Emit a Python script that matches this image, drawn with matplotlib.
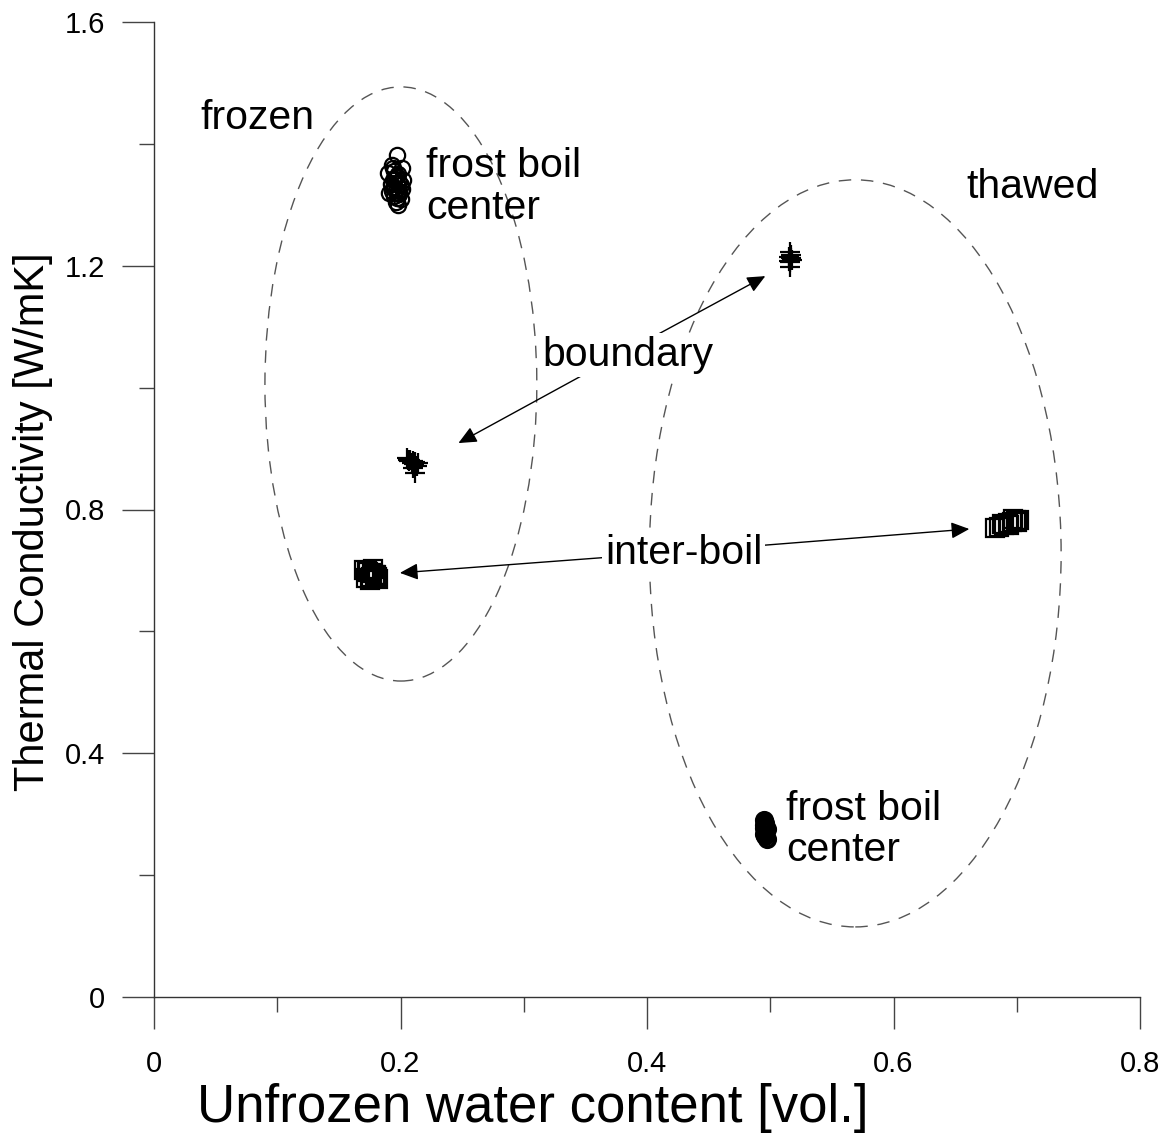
import matplotlib
matplotlib.use("Agg")
import matplotlib.pyplot as plt
from matplotlib.patches import Ellipse
from matplotlib.ticker import MultipleLocator

plt.rcParams['font.family'] = ['Liberation Sans', 'DejaVu Sans']

# --- measured data -------------------------------------------------------
# frozen, frost boil center (open circles)
frz_center_x = [0.197, 0.201, 0.193, 0.195, 0.198, 0.196, 0.194, 0.199, 0.197, 0.195, 0.200,
                0.196, 0.193, 0.198, 0.195, 0.197, 0.199, 0.194, 0.196, 0.198, 0.195, 0.197,
                0.190, 0.192, 0.201, 0.202, 0.191, 0.200, 0.194, 0.199]
frz_center_y = [1.382, 1.360, 1.365, 1.355, 1.350, 1.345, 1.340, 1.338, 1.335, 1.330, 1.332,
                1.325, 1.322, 1.320, 1.315, 1.312, 1.318, 1.328, 1.305, 1.300, 1.342, 1.348,
                1.352, 1.334, 1.326, 1.340, 1.320, 1.310, 1.360, 1.322]
# frozen, boundary (plus)
frz_boundary_x = [0.205, 0.208, 0.210, 0.212, 0.209, 0.211, 0.207, 0.213, 0.210, 0.212,
                  0.206, 0.214]
frz_boundary_y = [0.885, 0.882, 0.880, 0.878, 0.876, 0.874, 0.879, 0.872, 0.868, 0.860,
                  0.881, 0.876]
# frozen, inter-boil (squares)
frz_inter_x = [0.170, 0.174, 0.178, 0.180, 0.176, 0.172, 0.182, 0.175, 0.179, 0.177, 0.173, 0.181]
frz_inter_y = [0.700, 0.697, 0.703, 0.693, 0.690, 0.688, 0.686, 0.684, 0.692, 0.695, 0.699, 0.689]
# thawed, boundary (plus)
thw_boundary_x = [0.516, 0.517, 0.515, 0.518, 0.516, 0.517, 0.516, 0.515]
thw_boundary_y = [1.222, 1.218, 1.214, 1.210, 1.206, 1.212, 1.198, 1.208]
# thawed, inter-boil (squares)
thw_inter_x = [0.682, 0.686, 0.690, 0.693, 0.696, 0.699, 0.702, 0.688, 0.694, 0.700, 0.697]
thw_inter_y = [0.770, 0.772, 0.774, 0.778, 0.780, 0.782, 0.783, 0.776, 0.775, 0.779, 0.784]
# thawed, frost boil center (circles)
thw_center_x = [0.495, 0.496, 0.495, 0.497, 0.496, 0.495, 0.496, 0.497, 0.495]
thw_center_y = [0.290, 0.286, 0.282, 0.276, 0.272, 0.268, 0.264, 0.260, 0.278]

x_ticks = [0, 0.2, 0.4, 0.6, 0.8]
x_tick_labels = ['0', '0.2', '0.4', '0.6', '0.8']
y_ticks = [0, 0.4, 0.8, 1.2, 1.6]
y_tick_labels = ['0', '0.4', '0.8', '1.2', '1.6']

# --- figure ----------------------------------------------------------------
fig = plt.figure(figsize=(11.69, 11.35), dpi=100)
ax = fig.add_axes([154 / 1169, 1 - 997 / 1135, 986 / 1169, 975 / 1135])
ax.set_xlim(0, 0.8)
ax.set_ylim(0, 1.6)

for s in ('top', 'right'):
    ax.spines[s].set_visible(False)
for s in ('left', 'bottom'):
    ax.spines[s].set_color('#333333')
    ax.spines[s].set_linewidth(1.0)

ax.set_xticks(x_ticks)
ax.set_xticklabels(x_tick_labels)
ax.set_yticks(y_ticks)
ax.set_yticklabels(y_tick_labels)
ax.xaxis.set_minor_locator(MultipleLocator(0.1))
ax.yaxis.set_minor_locator(MultipleLocator(0.2))
ax.tick_params(which='major', direction='out', length=23, width=1.0, color='#444444',
               labelsize=21)
ax.tick_params(which='minor', direction='out', length=11, width=1.0, color='#444444')
ax.tick_params(axis='x', which='major', pad=15)
ax.tick_params(axis='y', which='major', pad=12)

ax.set_xlabel('Unfrozen water content [vol.]', fontsize=38)
ax.set_ylabel('Thermal Conductivity [W/mK]', fontsize=30)
ax.xaxis.label.set_va('center')
ax.xaxis.set_label_coords(0.384, -0.114)
ax.yaxis.label.set_va('center')
ax.yaxis.set_label_coords(-0.123, 0.488)

# dashed ellipses around frozen / thawed groups
ell_kw = dict(fill=False, edgecolor='#555555', linewidth=1.0, linestyle=(0, (9, 7)))
ax.add_patch(Ellipse((0.2003, 1.006), 0.2206, 0.975, **ell_kw))
ax.add_patch(Ellipse((0.569, 0.728), 0.334, 1.226, **ell_kw))

# markers
ax.plot(frz_center_x, frz_center_y, 'o', ms=11, mfc='none', mec='black', mew=1.6)
ax.plot(thw_center_x, thw_center_y, 'o', ms=11, mfc='none', mec='black', mew=2.8)
ax.plot(frz_boundary_x, frz_boundary_y, '+', ms=15, mec='black', mew=1.6)
ax.plot(thw_boundary_x, thw_boundary_y, '+', ms=15, mec='black', mew=1.6)
ax.plot(frz_inter_x, frz_inter_y, 's', ms=13, mfc='none', mec='black', mew=1.6)
ax.plot(thw_inter_x, thw_inter_y, 's', ms=13, mfc='none', mec='black', mew=1.6)

# double-headed arrows with labels sitting on top
arrow_kw = dict(arrowstyle='-|>,head_length=1.1,head_width=0.5', color='black', lw=1.0,
                shrinkA=0, shrinkB=0)
mid_b = (0.371, 1.046)
ax.annotate('', xy=(0.247, 0.909), xytext=mid_b, arrowprops=arrow_kw)
ax.annotate('', xy=(0.496, 1.183), xytext=mid_b, arrowprops=arrow_kw)
mid_i = (0.43, 0.731)
ax.annotate('', xy=(0.1995, 0.696), xytext=mid_i, arrowprops=arrow_kw)
ax.annotate('', xy=(0.6615, 0.768), xytext=mid_i, arrowprops=arrow_kw)

txt_kw = dict(fontsize=29.5, color='black')
box = dict(facecolor='white', edgecolor='none', pad=2)
ax.text(0.315, 1.053, 'boundary', va='center', ha='left', bbox=box, **txt_kw)
ax.text(0.366, 0.729, 'inter-boil', va='center', ha='left', bbox=box, **txt_kw)
ax.text(0.0373, 1.442, 'frozen', va='center', ha='left', **txt_kw)
ax.text(0.659, 1.329, 'thawed', va='center', ha='left', **txt_kw)
ax.text(0.221, 1.329, 'frost boil\ncenter', va='center', ha='left', linespacing=1.12, **txt_kw)
ax.text(0.513, 0.275, 'frost boil\ncenter', va='center', ha='left', linespacing=1.12, **txt_kw)

fig.savefig('out.png', dpi=100)
